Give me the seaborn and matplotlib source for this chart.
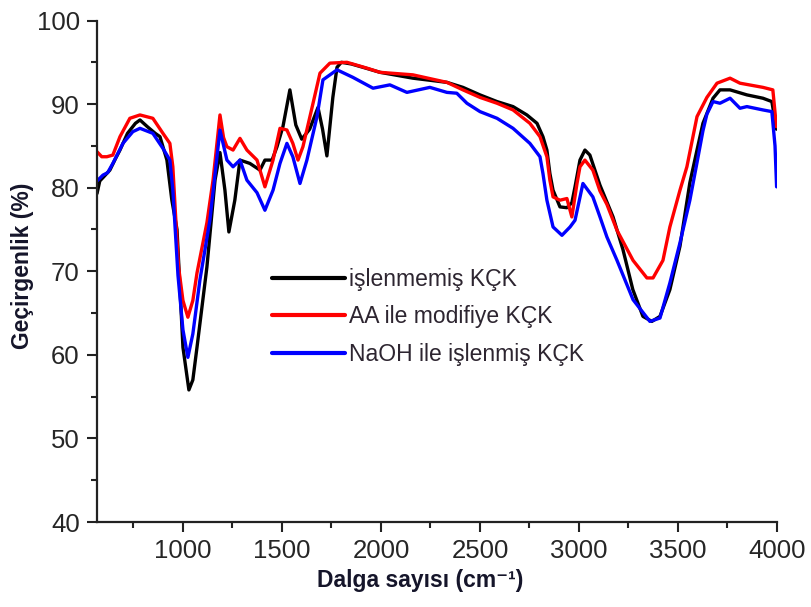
import numpy as np
import pandas as pd
import matplotlib
matplotlib.use("Agg")
import matplotlib.pyplot as plt
from matplotlib.ticker import MultipleLocator
import seaborn as sns

# ---- data ----
series_names = ["işlenmemiş KÇK", "AA ile modifiye KÇK", "NaOH ile işlenmiş KÇK"]
series_colors = ["#000000", "#ff0000", "#0000ff"]

wn_raw = [566, 580, 600, 631, 660, 682, 720, 760, 783, 820, 860, 884, 919, 944, 970,
          1000, 1030, 1050, 1071, 1121, 1162, 1187, 1212, 1232, 1262, 1288, 1338, 1389,
          1414, 1450, 1475, 1505, 1540, 1570, 1600, 1640, 1682, 1705, 1727, 1757, 1778,
          1800, 1850, 1909, 1995, 2161, 2333, 2414, 2500, 2586, 2667, 2737, 2788, 2818,
          2838, 2853, 2869, 2904, 2939, 2964, 2980, 3005, 3030, 3055, 3106, 3172, 3222,
          3272, 3323, 3368, 3409, 3459, 3510, 3560, 3596, 3626, 3677, 3712, 3763, 3848,
          3929, 3974, 3997]
t_raw = [79.3, 80.8, 81.3, 82.1, 83.5, 84.5, 86.5, 87.7, 88.1, 87.3, 86.5, 86.1, 83.3, 78.5, 75.0,
         60.9, 55.8, 57.0, 60.9, 70.5, 80.9, 84.2, 79.7, 74.7, 78.5, 83.3, 82.9, 82.1,
         83.3, 83.3, 84.9, 87.3, 91.7, 87.5, 85.8, 87.0, 89.6, 87.0, 83.8, 90.8, 94.4,
         95.0, 94.8, 94.4, 93.8, 93.1, 92.6, 92.0, 91.1, 90.3, 89.7, 88.7, 87.7, 86.1,
         84.5, 81.7, 79.7, 77.7, 77.6, 78.2, 80.1, 83.3, 84.5, 83.9, 80.3, 76.5, 72.6,
         67.8, 64.6, 64.0, 64.6, 67.8, 73.0, 80.6, 84.5, 87.7, 90.7, 91.7, 91.7, 91.1,
         90.7, 90.3, 87.0]

wn_aa = [566, 590, 616, 646, 682, 732, 783, 848, 899, 934, 949, 962, 978, 1000, 1025,
         1050, 1071, 1121, 1152, 1187, 1205, 1222, 1253, 1288, 1323, 1374, 1414, 1455,
         1490, 1525, 1555, 1581, 1606, 1657, 1692, 1742, 1828, 1929, 1995, 2161, 2333,
         2414, 2500, 2586, 2667, 2752, 2803, 2838, 2853, 2869, 2904, 2939, 2964, 2990,
         3005, 3030, 3070, 3106, 3141, 3192, 3273, 3343, 3374, 3424, 3459, 3510, 3545,
         3596, 3646, 3697, 3763, 3813, 3929, 3979, 3997]
t_aa = [84.3, 83.7, 83.7, 83.9, 86.1, 88.3, 88.7, 88.3, 86.5, 85.3, 82.5, 77.0, 70.5, 66.5, 64.5,
        66.5, 69.8, 75.8, 80.9, 88.7, 86.0, 84.9, 84.5, 85.9, 84.5, 83.3, 80.1, 83.3,
        87.1, 86.9, 85.3, 83.3, 84.9, 90.1, 93.7, 94.9, 95.0, 94.3, 93.8, 93.5, 92.6,
        91.7, 90.8, 90.1, 89.3, 87.7, 86.1, 83.7, 80.9, 78.9, 78.5, 78.7, 76.5, 80.5,
        82.5, 83.3, 82.1, 79.6, 78.0, 74.9, 71.3, 69.2, 69.2, 71.3, 75.3, 79.7, 82.5,
        88.5, 90.8, 92.5, 93.1, 92.5, 92.0, 91.7, 87.3]

wn_naoh = [566, 596, 620, 646, 697, 747, 783, 848, 899, 934, 949, 975, 1000, 1025, 1050,
           1086, 1136, 1187, 1222, 1253, 1288, 1323, 1374, 1414, 1455, 1490, 1525, 1555,
           1591, 1626, 1677, 1707, 1778, 1858, 1960, 2045, 2131, 2247, 2333, 2383, 2434,
           2500, 2586, 2667, 2752, 2803, 2818, 2838, 2869, 2914, 2955, 2980, 3020, 3070,
           3106, 3141, 3192, 3273, 3358, 3409, 3459, 3510, 3560, 3596, 3626, 3646, 3677,
           3712, 3763, 3813, 3848, 3929, 3974, 3990, 3998]
t_naoh = [80.8, 81.5, 81.8, 82.9, 85.3, 86.7, 87.1, 86.5, 84.7, 83.3, 79.7, 69.5, 63.0, 59.7, 62.5,
          69.0, 76.1, 86.9, 83.3, 82.5, 83.3, 80.9, 79.4, 77.3, 79.7, 82.9, 85.3, 83.7,
          80.5, 83.3, 88.5, 92.9, 94.1, 93.2, 91.9, 92.3, 91.4, 92.0, 91.4, 91.3, 90.1,
          89.1, 88.3, 87.1, 85.3, 83.7, 81.7, 78.5, 75.3, 74.3, 75.3, 76.1, 80.5, 78.9,
          76.5, 74.1, 71.3, 66.6, 64.0, 64.4, 68.6, 73.4, 78.5, 83.0, 86.8, 88.8, 90.3,
          90.1, 90.7, 89.5, 89.7, 89.3, 89.1, 85.0, 80.1]

x_ticks = [1000, 1500, 2000, 2500, 3000, 3500, 4000]
y_ticks = [40, 50, 60, 70, 80, 90, 100]

# ---- build long table ----
frames = []
for name, wn, tr in zip(series_names, [wn_raw, wn_aa, wn_naoh], [t_raw, t_aa, t_naoh]):
    frames.append(pd.DataFrame({"wn": wn, "T": tr, "sample": name}))
df = pd.concat(frames, ignore_index=True)

sns.set_style("ticks")
plt.rcParams["font.family"] = ["Liberation Sans", "DejaVu Sans"]

fig = plt.figure(figsize=(8.11, 6.07), dpi=100)
ax = fig.add_axes([97 / 811, 1 - 522 / 607, 680 / 811, 501.5 / 607])

sns.lineplot(data=df, x="wn", y="T", hue="sample", hue_order=series_names,
             palette=series_colors, estimator=None, sort=False, linewidth=2.4,
             ax=ax, legend=True)

ax.set_xlim(566, 4000)
ax.set_ylim(40, 100)
ax.set_xticks(x_ticks)
ax.set_yticks(y_ticks)
ax.xaxis.set_minor_locator(MultipleLocator(250))
ax.yaxis.set_minor_locator(MultipleLocator(5))
sns.despine(ax=ax)
for s in ["left", "bottom"]:
    ax.spines[s].set_linewidth(1.6)
    ax.spines[s].set_color("#222222")

ax.tick_params(which="major", direction="out", length=7.5, width=1.5, color="#222222",
               labelsize=18.5, labelcolor="#262626", pad=5)
ax.tick_params(which="minor", direction="out", length=4.5, width=1.5, color="#222222")

ax.set_xlabel("Dalga sayısı (cm⁻¹)", fontsize=16.5, fontweight="bold", color="#15152a")
ax.set_ylabel("Geçirgenlik (%)", fontsize=16.5, fontweight="bold", color="#15152a")
ax.xaxis.set_label_coords(0.475, -0.116)
ax.yaxis.set_label_coords(-0.110, 0.51)
ax.xaxis.label.set_verticalalignment("center")
ax.yaxis.label.set_verticalalignment("center")

leg = ax.legend(loc="upper left", bbox_to_anchor=(0.257, 0.506), frameon=False,
                fontsize=16.5, handlelength=3.2, handletextpad=0.15, labelspacing=0.62,
                borderpad=0, borderaxespad=0)
for txt in leg.get_texts():
    txt.set_color("#2d2530")
for ln in leg.get_lines():
    ln.set_linewidth(3)

fig.savefig("out.png", dpi=100)
